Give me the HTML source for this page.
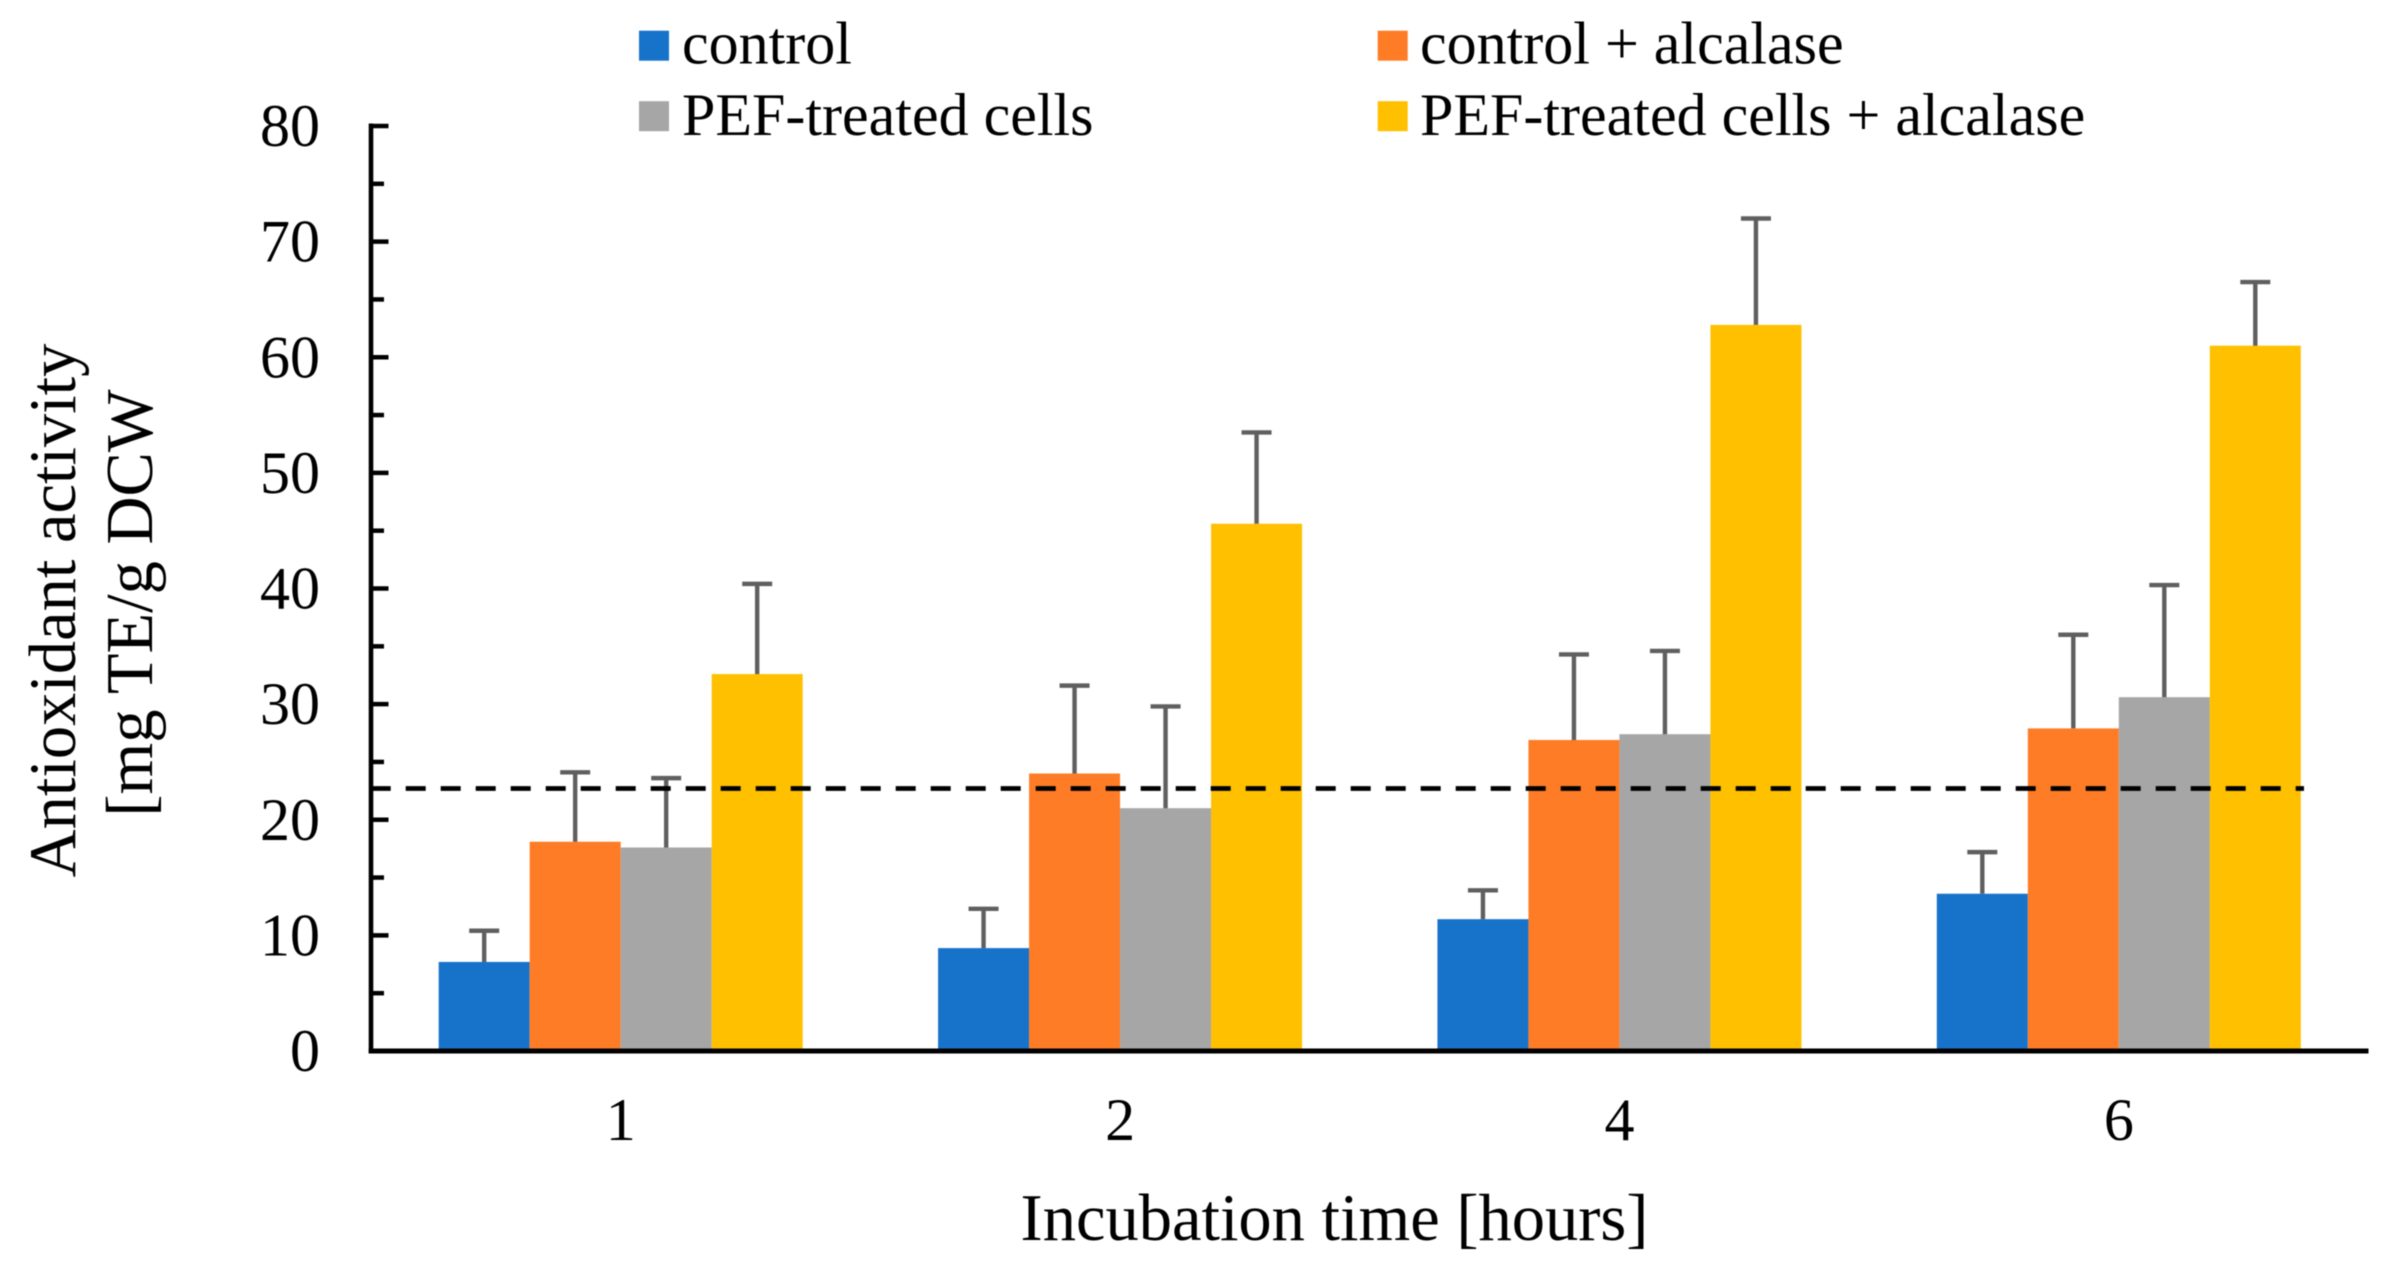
<!DOCTYPE html>
<html lang="en">
<head>
<meta charset="utf-8">
<title>Antioxidant activity chart</title>
<style>
html,body{margin:0;padding:0;background:#fff;width:2385px;height:1277px;overflow:hidden}
svg{display:block;filter:blur(0.45px)}
text{font-family:"Liberation Serif","Times New Roman",serif;fill:#000}
</style>
</head>
<body>
<svg id="chart" xmlns="http://www.w3.org/2000/svg" width="2385" height="1277" viewBox="0 0 2385 1277">
  <rect x="0" y="0" width="2385" height="1277" fill="#ffffff"/>
  <g id="bars"></g>
  <g id="errors"></g>
  <g id="axes"></g>
  <g id="ref"></g>
  <g id="legend"></g>
  <text transform="translate(75,610.5) rotate(-90)" text-anchor="middle" font-size="66.5">Antioxidant activity</text>
  <text transform="translate(152,603) rotate(-90)" text-anchor="middle" font-size="66.5">[mg TE/g DCW</text>
  <text x="1334.5" y="1240" text-anchor="middle" font-size="66.5">Incubation time [hours]</text>
</svg>
<script>
const categories = ['1', '2', '4', '6'];
const seriesNames = ['control', 'control + alcalase', 'PEF-treated cells', 'PEF-treated cells + alcalase'];
const controlValues = [7.7, 8.9, 11.4, 13.6];
const controlAlcalaseValues = [18.1, 24.0, 26.9, 27.9];
const pefValues = [17.6, 21.0, 27.4, 30.6];
const pefAlcalaseValues = [32.6, 45.6, 62.8, 61.0];
const controlErrors = [2.7, 3.4, 2.5, 3.6];
const controlAlcalaseErrors = [6.0, 7.6, 7.4, 8.1];
const pefErrors = [6.0, 8.8, 7.2, 9.7];
const pefAlcalaseErrors = [7.8, 7.9, 9.2, 5.5];
const yTickLabels = [0, 10, 20, 30, 40, 50, 60, 70, 80];
const yMinorTicks = [5, 15, 25, 35, 45, 55, 65, 75];
const referenceValue = 22.7;

const seriesValues = [controlValues, controlAlcalaseValues, pefValues, pefAlcalaseValues];
const seriesErrors = [controlErrors, controlAlcalaseErrors, pefErrors, pefAlcalaseErrors];
const seriesColors = ['#1772CA', '#FF7C26', '#A6A6A6', '#FFC000'];

const NS = 'http://www.w3.org/2000/svg';
const plotLeft = 371, plotRight = 2368.5, plotBottom = 1051, plotTop = 126;
const yMax = 80, barWidth = 91;
const yScale = v => plotBottom - (v / yMax) * (plotBottom - plotTop);
const bandWidth = (plotRight - plotLeft) / categories.length;
const xCenter = i => plotLeft + bandWidth * (i + 0.5);
const xBar = (i, s) => xCenter(i) + (s - seriesValues.length / 2) * barWidth;

function make(tag, attrs, parent, txt) {
  const el = document.createElementNS(NS, tag);
  for (const k in attrs) el.setAttribute(k, attrs[k]);
  if (txt !== undefined) el.textContent = txt;
  parent.appendChild(el);
  return el;
}

const barsG = document.getElementById('bars');
const errG = document.getElementById('errors');
const axesG = document.getElementById('axes');
const refG = document.getElementById('ref');
const legG = document.getElementById('legend');

seriesValues.forEach((vals, s) => {
  vals.forEach((v, i) => {
    const bar = make('rect', {x: xBar(i, s), y: yScale(v), width: barWidth, height: plotBottom - yScale(v), fill: seriesColors[s]}, barsG);
    
    
    const cx = xBar(i, s) + barWidth / 2;
    const top = yScale(v + seriesErrors[s][i]);
    const stem = make('line', {x1: cx, x2: cx, y1: yScale(v), y2: top, stroke: '#5F5F5F', 'stroke-width': 4.4}, errG);
    
    
    const cap = make('line', {x1: cx - 15, x2: cx + 15, y1: top, y2: top, stroke: '#5F5F5F', 'stroke-width': 4.4}, errG);
    
    
  });
});

const yAxisLine = make('line', {x1: plotLeft, x2: plotLeft, y1: plotTop - 2.5, y2: plotBottom + 2.5, stroke: '#000', 'stroke-width': 4.6}, axesG);


const xAxisLine = make('line', {x1: plotLeft - 2.3, x2: plotRight, y1: plotBottom, y2: plotBottom, stroke: '#000', 'stroke-width': 5}, axesG);



yTickLabels.forEach(v => {
  const tick = make('line', {x1: plotLeft, x2: plotLeft + 17.5, y1: yScale(v), y2: yScale(v), stroke: '#000', 'stroke-width': 4.5}, axesG);
  
  
  const lab = make('text', {x: 320, y: yScale(v) + 20, 'text-anchor': 'end', 'font-size': 60}, axesG, String(v));
  
  
});
yMinorTicks.forEach(v => {
  const tick = make('line', {x1: plotLeft, x2: plotLeft + 13, y1: yScale(v), y2: yScale(v), stroke: '#000', 'stroke-width': 4.5}, axesG);
  
  
});
categories.forEach((c, i) => {
  const lab = make('text', {x: xCenter(i), y: 1140, 'text-anchor': 'middle', 'font-size': 60}, axesG, c);
  
  
});

const refLine = make('line', {x1: 370.7, x2: 2304, y1: yScale(referenceValue), y2: yScale(referenceValue), stroke: '#000', 'stroke-width': 4.7, 'stroke-dasharray': '20 15'}, refG);



const legendColumns = [639, 1377.7];
const legendTextColumns = [682, 1420];
const legendRows = [30.7, 101.2];
const legendBaselines = [63.3, 135];
seriesNames.forEach((name, s) => {
  const col = s % 2, row = Math.floor(s / 2);
  const sw = make('rect', {x: legendColumns[col], y: legendRows[row], width: 30, height: 30, fill: seriesColors[s]}, legG);
  
  
  const t = make('text', {x: legendTextColumns[col], y: legendBaselines[row], 'font-size': 60}, legG, name);
  
  
});
</script>
</body>
</html>
